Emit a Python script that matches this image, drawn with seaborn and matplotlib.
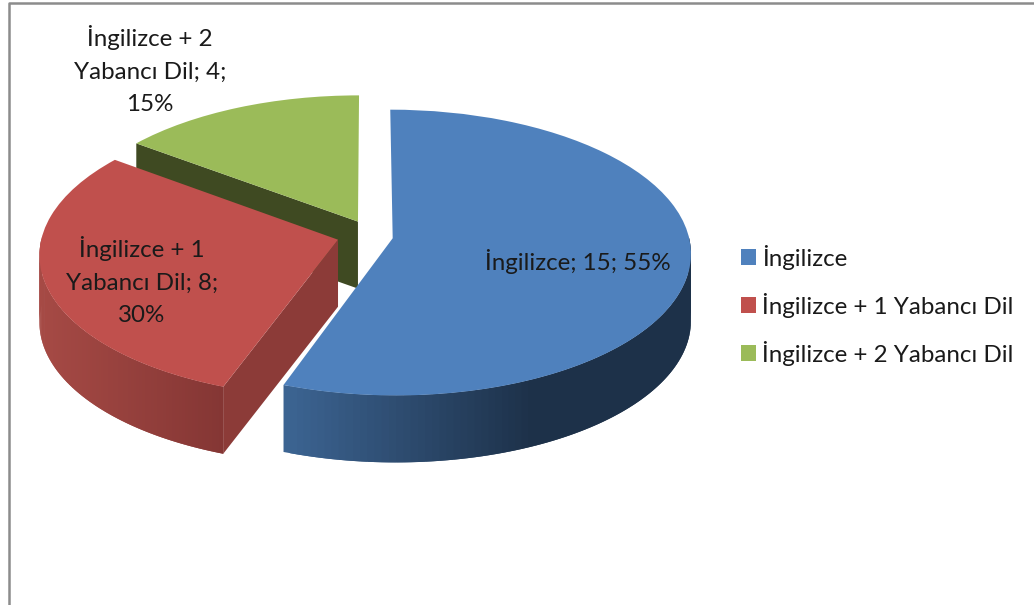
import numpy as np
import matplotlib
matplotlib.use('Agg')
import matplotlib.pyplot as plt
from matplotlib.transforms import Transform
from matplotlib.colors import to_rgb
import seaborn as sns

# values
categories = ['İngilizce', 'İngilizce + 1 Yabancı Dil', 'İngilizce + 2 Yabancı Dil']
counts = [15, 8, 4]
percents = [55, 30, 15]
wrapped_names = ['İngilizce', 'İngilizce + 1\nYabancı Dil', 'İngilizce + 2\nYabancı Dil']

colors = ['#4F81BD', '#C0504D', '#9BBB59']
side_light = ['#3C6492', '#A64A45', '#3F4A22']
side_dark = ['#1D3149', '#843634', '#3F4A22']
cut_colors = ['#1D3149', '#8C3B38', '#3F4A22']
gradient_stop = [0.6, 1.0, 1.0]
explode = [0.0914, 0.0914, 0.0914]
nudges = [(2, 0), (0, 0), (6, -3)]
label_pos = [(578, 262), (142, 281), (150, 70)]
draw_order = [2, 1, 0]

sns.set_theme(style='white')
plt.rcParams['font.family'] = ['Lato', 'DejaVu Sans']


class Tilt(Transform):
    # lay the unit pie down flat, with a bit of perspective, in pixel coordinates
    input_dims = 2
    output_dims = 2
    is_separable = False
    has_inverse = False

    def __init__(self, nudge=(0, 0)):
        super().__init__()
        self.nudge = nudge

    def transform_non_affine(self, values):
        values = np.asarray(values, dtype=float)
        w = 1 + 0.10 * values[:, 1]
        px = 364 + self.nudge[0] + 296 * values[:, 0] / w
        py = 236 + self.nudge[1] - 141 * values[:, 1] / w
        return np.column_stack([px, py])


fig = plt.figure(figsize=(10.34, 6.05), dpi=100)
ax = fig.add_axes([0, 0, 1, 1])

wedges, _ = ax.pie(counts, explode=explode, colors=colors, startangle=90,
                   counterclock=False, radius=1, frame=False)
ax.set_aspect('auto')
ax.set_xlim(0, 1034)
ax.set_ylim(605, 0)
ax.axis('off')

depth = 67

for layer, i in enumerate(draw_order):
    w = wedges[i]
    tilt = Tilt(nudges[i])
    w.set_transform(tilt + ax.transData)
    w.set_zorder(layer + 1.5)
    w.set_edgecolor('none')

    # cut faces, only the ones turned towards the viewer
    cx, cy = w.center
    mid = np.radians((w.theta1 + w.theta2) / 2)
    m = np.array([np.cos(mid), np.sin(mid)])
    for ang in (w.theta1, w.theta2):
        d = np.array([np.cos(np.radians(ang)), np.sin(np.radians(ang))])
        if m[1] - m.dot(d) * d[1] < 0.01:
            continue
        p = tilt.transform_non_affine(np.array([[cx, cy], [cx + d[0], cy + d[1]]]))
        ax.fill([p[0, 0], p[1, 0], p[1, 0], p[0, 0]],
                [p[0, 1], p[1, 1], p[1, 1] + depth, p[0, 1] + depth],
                color=cut_colors[i], lw=0, zorder=layer + 1)

    # outer rim, front part only, cut in thin strips to get the shading
    theta = np.radians(np.linspace(w.theta1, w.theta2, 160))
    theta = theta[np.sin(theta) < 0.02]
    if len(theta) < 2:
        continue
    rim = tilt.transform_non_affine(np.column_stack([cx + np.cos(theta), cy + np.sin(theta)]))
    low, high = rim[:, 0].min(), rim[:, 0].max()
    light = np.array(to_rgb(side_light[i]))
    dark = np.array(to_rgb(side_dark[i]))
    for j in range(len(rim) - 1):
        a, b = rim[j], rim[min(j + 2, len(rim) - 1)]
        t = min((a[0] - low) / (high - low) / gradient_stop[i], 1)
        ax.fill([a[0], b[0], b[0], a[0]], [a[1], b[1], b[1] + depth, a[1] + depth],
                color=light + (dark - light) * t, lw=0, zorder=layer + 1.2)

for name, count, pct, pos in zip(wrapped_names, counts, percents, label_pos):
    if '\n' in name:
        text = f'{name}; {count};\n{pct}%'
    else:
        text = f'{name}; {count}; {pct}%'
    ax.text(pos[0], pos[1], text, ha='center', va='center', fontsize=17.4,
            color='#1A1A1A', linespacing=1.66, zorder=10)

ax.legend(wedges, categories, loc='upper left', bbox_to_anchor=(719 / 1034, 1 - 223 / 605),
          frameon=False, fontsize=17.4, handlelength=0.62, handleheight=0.62,
          handletextpad=0.25, labelspacing=0.95, borderpad=0.4, labelcolor='#1A1A1A')

# chart frame, only top and left fall inside the picture
ax.plot([9, 9, 1034], [605, 3, 3], color='#8C8C8C', lw=1.8, zorder=0)

fig.savefig('out.png', dpi=100)
